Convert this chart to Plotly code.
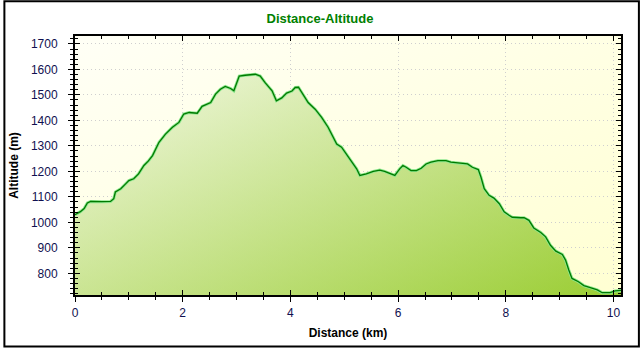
import base64
import plotly.graph_objects as go

# Elevation profile of the route: distance along the track (km) and altitude (m)
distance_km = [
    0.00, 0.05, 0.10, 0.17, 0.23, 0.29, 0.40, 0.50, 0.66, 0.72, 0.75, 0.85,
    0.94, 1.00, 1.09, 1.18, 1.28, 1.36, 1.44, 1.50, 1.56, 1.68, 1.81, 1.93,
    2.02, 2.12, 2.27, 2.36, 2.42, 2.52, 2.61, 2.70, 2.79, 2.89, 2.95, 3.01,
    3.05, 3.16, 3.29, 3.35, 3.44, 3.53, 3.66, 3.74, 3.84, 3.93, 4.03, 4.09,
    4.15, 4.21, 4.33, 4.46, 4.58, 4.70, 4.80, 4.86, 4.95, 5.04, 5.14, 5.23,
    5.29, 5.41, 5.54, 5.66, 5.75, 5.87, 5.94, 6.03, 6.09, 6.15, 6.24, 6.34,
    6.43, 6.52, 6.61, 6.74, 6.89, 6.98, 7.14, 7.29, 7.38, 7.49, 7.54, 7.60,
    7.69, 7.78, 7.88, 7.97, 8.06, 8.12, 8.28, 8.34, 8.43, 8.52, 8.65, 8.74,
    8.83, 8.93, 9.05, 9.11, 9.17, 9.23, 9.35, 9.45, 9.57, 9.70, 9.79, 9.94,
    10.03, 10.14,
]
altitude_m = [
    1030, 1036, 1042, 1054, 1076, 1082, 1080, 1081, 1082, 1093, 1119, 1132,
    1151, 1164, 1171, 1190, 1223, 1240, 1262, 1290, 1314, 1346, 1373, 1392,
    1425, 1431, 1428, 1455, 1460, 1470, 1503, 1522, 1533, 1525, 1516, 1548,
    1574, 1577, 1581, 1581, 1574, 1548, 1516, 1477, 1488, 1507, 1515, 1529,
    1530, 1509, 1470, 1444, 1412, 1373, 1334, 1307, 1295, 1268, 1242, 1210,
    1184, 1190, 1200, 1205, 1200, 1190, 1184, 1210, 1223, 1216, 1203, 1203,
    1212, 1229, 1236, 1242, 1242, 1236, 1233, 1229, 1216, 1207, 1177, 1132,
    1106, 1095, 1073, 1041, 1028, 1020, 1018, 1018, 1008, 978, 960, 943,
    910, 887, 874, 852, 813, 780, 767, 752, 744, 735, 724, 724,
    731, 733,
]

x_range = [0, 10.14]
y_range = [715, 1731]
x_major, x_minor = 2, 0.5
y_major, y_minor = 100, 20

title_text = "Distance-Altitude"
x_title = "Distance (km)"
y_title = "Altitude (m)"

FONT = "Liberation Sans, Arial, sans-serif"
TICK_COLOR = "#101050"
LIGHT_RGB = (250, 252, 242)     # top-left of the area fill
DARK_RGB = (154, 205, 50)       # bottom-right of the area fill
LINE_DARK = "#007a00"
LINE_HALO = "#8ee88e"
GRID = "#cfcfcf"


def rgba(c, a=1.0):
    return f"rgba({c[0]},{c[1]},{c[2]},{a})"


# Pale yellow diagonal wash behind the plot area
bg_svg = (
    "<svg xmlns='http://www.w3.org/2000/svg' width='549' height='261' "
    "viewBox='0 0 1 1' preserveAspectRatio='none'>"
    "<defs><linearGradient id='g' x1='0' y1='0' x2='1' y2='1'>"
    "<stop offset='0' stop-color='#fffff6'/>"
    "<stop offset='1' stop-color='#ffffd2'/>"
    "</linearGradient></defs>"
    "<rect x='0' y='0' width='1' height='1' fill='url(#g)'/></svg>"
)
bg_uri = "data:image/svg+xml;base64," + base64.b64encode(bg_svg.encode()).decode()

fig = go.Figure()

# Area under the profile: an opaque vertical gradient, overlaid by a
# half-transparent horizontal one, which together give a diagonal shading.
fig.add_trace(go.Scatter(
    x=distance_km, y=altitude_m, mode="lines", line=dict(width=0),
    fill="tozeroy",
    fillgradient=dict(type="vertical",
                      colorscale=[[0, rgba(DARK_RGB)], [1, rgba(LIGHT_RGB)]],
                      start=y_range[0], stop=y_range[1]),
    hoverinfo="skip", showlegend=False,
))
fig.add_trace(go.Scatter(
    x=distance_km, y=altitude_m, mode="lines", line=dict(width=0),
    fill="tozeroy",
    fillgradient=dict(type="horizontal",
                      colorscale=[[0, rgba(LIGHT_RGB, 0.5)],
                                  [1, rgba(DARK_RGB, 0.5)]],
                      start=x_range[0], stop=x_range[1]),
    hoverinfo="skip", showlegend=False,
))
# Profile outline: light halo under a dark green line
fig.add_trace(go.Scatter(
    x=distance_km, y=altitude_m, mode="lines",
    line=dict(color=LINE_HALO, width=3.0),
    hoverinfo="skip", showlegend=False,
))
fig.add_trace(go.Scatter(
    x=distance_km, y=altitude_m, mode="lines",
    line=dict(color=LINE_DARK, width=1.3),
    showlegend=False,
))
# Empty trace that anchors the overlay axes used for the inward ticks
fig.add_trace(go.Scatter(
    x=[None], y=[None], xaxis="x2", yaxis="y2",
    hoverinfo="skip", showlegend=False,
))

tick_font = dict(family=FONT, size=12, color=TICK_COLOR)

fig.update_layout(
    width=640, height=350, autosize=False,
    margin=dict(l=72, r=19, t=36, b=53, pad=0),
    paper_bgcolor="white",
    plot_bgcolor="rgba(0,0,0,0)",
    title=dict(text=f"<b>{title_text}</b>", x=0.5, xref="container",
               y=1 - 18 / 350, yref="container", yanchor="middle",
               xanchor="center",
               font=dict(family=FONT, size=13, color="#008000")),
    images=[dict(source=bg_uri, xref="paper", yref="paper", x=0, y=1,
                 sizex=1, sizey=1, xanchor="left", yanchor="top",
                 sizing="stretch", layer="below")],
    xaxis=dict(
        range=x_range, tick0=0, dtick=x_major,
        showline=True, linecolor="black", linewidth=2,
        ticks="outside", ticklen=5, tickwidth=1, tickcolor="black",
        minor=dict(ticks="outside", dtick=x_minor, ticklen=3,
                   tickcolor="black", showgrid=False),
        showgrid=True, gridcolor=GRID, griddash="1px,3px", gridwidth=1,
        zeroline=False, tickfont=tick_font, ticklabelstandoff=1,
        title=dict(text=f"<b>{x_title}</b>", standoff=9,
                   font=dict(family=FONT, size=12, color="black")),
    ),
    yaxis=dict(
        range=y_range, tick0=0, dtick=y_major,
        showline=True, linecolor="black", linewidth=2,
        ticks="outside", ticklen=5, tickwidth=1, tickcolor="black",
        minor=dict(ticks="outside", dtick=y_minor, ticklen=3,
                   tickcolor="black", showgrid=False),
        showgrid=True, gridcolor=GRID, griddash="1px,3px", gridwidth=1,
        zeroline=False, tickfont=tick_font, ticklabelstandoff=8,
        title=dict(text=f"<b>{y_title}</b>", standoff=10,
                   font=dict(family=FONT, size=12, color="black")),
    ),
    xaxis2=dict(
        range=x_range, overlaying="x", side="bottom", tick0=0, dtick=x_major,
        showline=True, linecolor="black", linewidth=2, mirror="ticks",
        ticks="inside", ticklen=5, tickwidth=1, tickcolor="black",
        minor=dict(ticks="inside", dtick=x_minor, ticklen=3,
                   tickcolor="black", showgrid=False),
        showgrid=False, zeroline=False, showticklabels=False,
    ),
    yaxis2=dict(
        range=y_range, overlaying="y", side="left", tick0=0, dtick=y_major,
        showline=True, linecolor="black", linewidth=2, mirror="ticks",
        ticks="inside", ticklen=5, tickwidth=1, tickcolor="black",
        minor=dict(ticks="inside", dtick=y_minor, ticklen=3,
                   tickcolor="black", showgrid=False),
        showgrid=False, zeroline=False, showticklabels=False,
    ),
    shapes=[dict(type="rect", xref="paper", yref="paper",
                 x0=(1 - 72) / 549, x1=(639 - 72) / 549,
                 y0=-(53 - 1) / 261, y1=1 + (36 - 1) / 261,
                 line=dict(color="black", width=2), fillcolor="rgba(0,0,0,0)",
                 layer="above")],
)

fig.write_html("out.html")
